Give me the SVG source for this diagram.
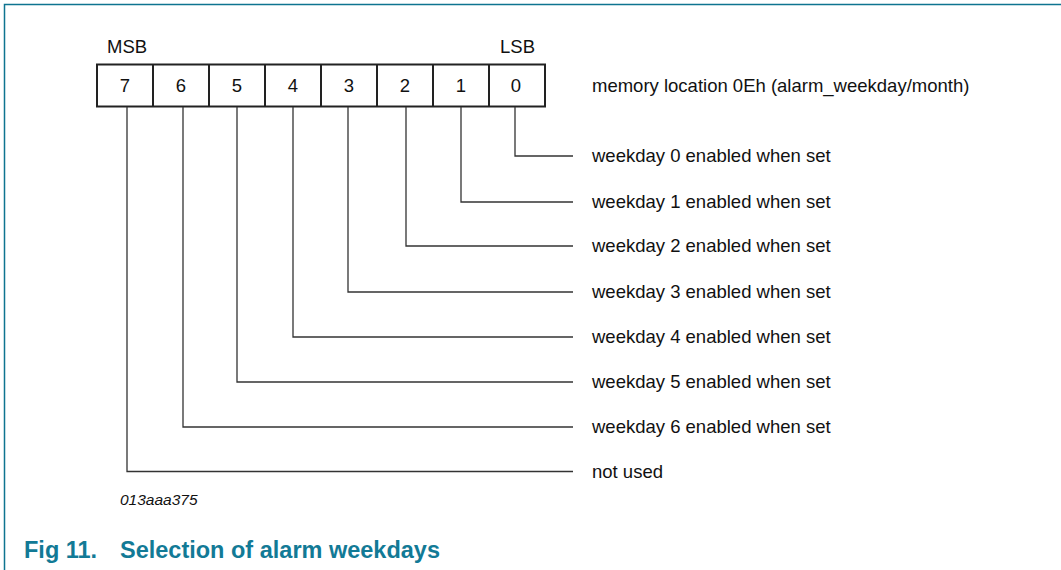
<svg xmlns="http://www.w3.org/2000/svg" width="1061" height="570" viewBox="0 0 1061 570">
<style>
.t{font-family:"Liberation Sans",Arial,sans-serif;font-size:18.5px;fill:#111}
.c{text-anchor:middle}
.ln{stroke:#333;stroke-width:1.3;fill:none}
.cap{font-family:"Liberation Sans",Arial,sans-serif;font-size:23.5px;font-weight:bold;fill:#127a96}
</style>
<rect width="1061" height="570" fill="#fff"/>
<path d="M4.5 570 V4.5 H1061" fill="none" stroke="#0e7490" stroke-width="1.5"/>
<g id="register">
<rect x="97" y="64.5" width="448" height="42" fill="#fff" stroke="#222" stroke-width="2"/>
<path d="M153 64.5V106.5M209 64.5V106.5M265 64.5V106.5M321 64.5V106.5M377 64.5V106.5M433 64.5V106.5M489 64.5V106.5" stroke="#222" stroke-width="2"/>
<text class="t c" x="125" y="92">7</text>
<text class="t c" x="181" y="92">6</text>
<text class="t c" x="237" y="92">5</text>
<text class="t c" x="293" y="92">4</text>
<text class="t c" x="349" y="92">3</text>
<text class="t c" x="405" y="92">2</text>
<text class="t c" x="461" y="92">1</text>
<text class="t c" x="516" y="92">0</text>
<text class="t" x="107" y="53">MSB</text>
<text class="t" x="500" y="53">LSB</text>
<text class="t" x="592" y="92">memory location 0Eh (alarm_weekday/month)</text>
</g>
<g id="connectors">
<path class="ln" d="M515 107V156H573"/>
<path class="ln" d="M461 107V202H573"/>
<path class="ln" d="M406 107V246H573"/>
<path class="ln" d="M348 107V292H573"/>
<path class="ln" d="M293 107V337H573"/>
<path class="ln" d="M237 107V382H573"/>
<path class="ln" d="M183 107V427H573"/>
<path class="ln" d="M127 107V471.5H573"/>
</g>
<g id="labels">
<text class="t" x="592" y="162">weekday 0 enabled when set</text>
<text class="t" x="592" y="208">weekday 1 enabled when set</text>
<text class="t" x="592" y="252">weekday 2 enabled when set</text>
<text class="t" x="592" y="298">weekday 3 enabled when set</text>
<text class="t" x="592" y="343">weekday 4 enabled when set</text>
<text class="t" x="592" y="388">weekday 5 enabled when set</text>
<text class="t" x="592" y="433">weekday 6 enabled when set</text>
<text class="t" x="592" y="478">not used</text>
</g>
<text x="120" y="505" font-family="Liberation Sans,Arial,sans-serif" font-size="15.5" font-style="italic" fill="#111">013aaa375</text>
<text class="cap" x="24" y="558">Fig 11.</text>
<text class="cap" x="120" y="558">Selection of alarm weekdays</text>
</svg>
